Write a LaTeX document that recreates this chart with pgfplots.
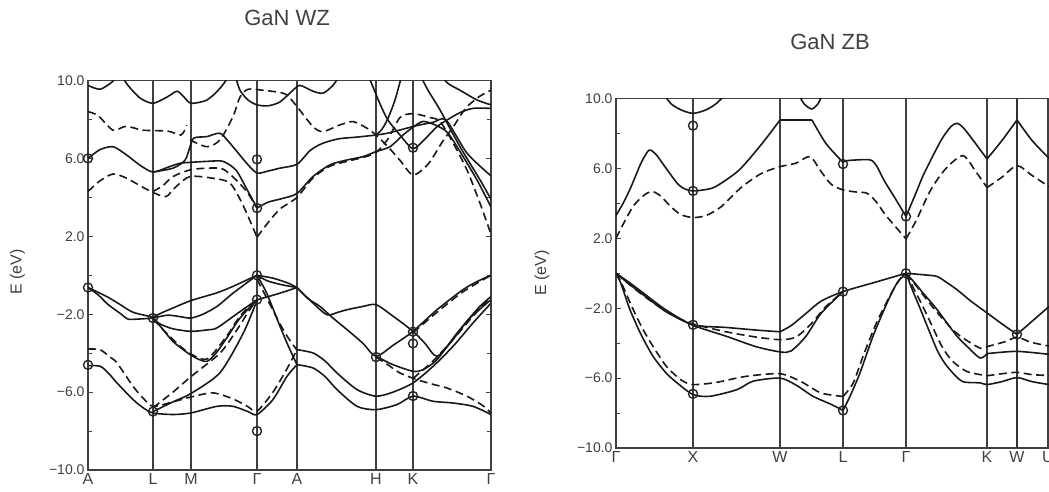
\documentclass[border=0pt]{standalone}
\usepackage{pgfplots}
\pgfplotsset{compat=1.18}
\usepackage{fontspec}
\setmainfont{Liberation Sans}
\begin{document}
\begin{tikzpicture}
\path[use as bounding box] (0pt,0pt) rectangle (1049pt,-491pt);
\clip (0pt,0pt) rectangle (1049pt,-491pt);
\pgfplotsset{
  band/.style={black!90, line width=1.6pt, smooth, tension=0.45},
  dband/.style={band, dash pattern=on 8pt off 4.5pt},
  circ/.style={only marks, mark=o, mark size=4.5pt, mark options={line width=1.4pt, black!85, solid}},
  bandaxis/.style={scale only axis, anchor=south west, ymin=-10, ymax=10,
    ytick={-10,-6,-2,2,6,10}, yticklabels={−10.0,−6.0,−2.0,2.0,6.0,10.0},
    minor ytick={-8,-4,0,4,8}, ytick pos=both, tick align=inside,
    major tick length=5pt, minor tick length=4pt,
    tick style={black!75, line width=0.9pt},
    xtick style={draw=none},
    axis line style={black!75, line width=1.8pt},
    xmajorgrids, major grid style={black!75, line width=1.5pt},
    clip mode=individual,
    yticklabel style={font=\fontsize{14}{14}\selectfont, text=black!75},
    xticklabel style={font=\fontsize{16}{16}\selectfont, text=black!75},
    title style={anchor=center, font=\fontsize{22}{22}\selectfont, text=black!75},
    ylabel style={anchor=center, rotate=0, font=\fontsize{16}{16}\selectfont, text=black!75},
  }
}
% ===================== GaN WZ =====================
\begin{axis}[bandaxis, at={(88pt,-470pt)}, width=403pt, height=389.5pt,
  xmin=0, xmax=403,
  xtick={0,65,103,169,209,288,325,403},
  xticklabels={A,L,M,Γ,A,H,K,Γ},
  title={GaN WZ}, title style={at={(axis description cs:0.494,1.145)}},
  ylabel={E (eV)}, ylabel style={at={(axis description cs:-0.175,0.508)}}]
% conduction bands
\addplot[band] coordinates {(0,9.75)(12,9.55)(24,9.92)(30,10.3)};
\addplot[band] coordinates {(33,10.3)(40,9.75)(52,9.1)(65,8.83)(79,9.15)(89,9.45)(96,9.15)(103,8.83)(119,9.0)(132,9.6)(142,10.3)};
\addplot[band] coordinates {(147,10.3)(152,9.5)(160,9.0)(169,8.75)(180,8.7)(192,8.9)(205,9.5)(212,9.75)(225,9.45)(235,9.35)(245,9.75)(252,10.3)};
\addplot[dband] coordinates {(0,8.4)(10,8.2)(25,7.45)(38,7.65)(55,7.45)(80,7.4)(93,7.2)(99,7.7)};
\addplot[dband] coordinates {(102,6.95)(119,6.6)(132,6.95)(145,8.15)(152,9.15)(160,9.55)(175,9.5)(190,9.4)(199,9.26)(209,8.66)(225,7.63)(235,7.38)(252,7.72)(265,7.89)(279,7.55)(288,7.2)(300,6.6)(312,5.9)(325,5.15)(340,5.7)(355,6.9)(365,7.6)(378,8.6)(392,9.2)(403,9.5)};
\addplot[band] coordinates {(0,6.0)(12,6.45)(25,6.6)(38,6.2)(52,5.65)(65,5.3)(80,5.55)(92,5.75)(103,5.8)(120,5.85)(135,5.85)(148,5.4)(158,4.5)(169,3.45)};
\addplot[band] coordinates {(169,3.45)(180,3.75)(195,3.95)(209,4.2)(225,5.07)(242,5.67)(259,5.92)(275,6.09)(288,6.35)(302,6.6)(315,7.2)(325,7.6)(335,7.9)(348,7.7)(360,7.3)(375,6.1)(390,4.8)(403,3.5)};
\addplot[band] coordinates {(65,5.3)(85,5.5)(97,5.9)(102,6.6)(106,7.05)(119,7.12)(132,7.29)(142,6.78)(158.7,5.75)(169,5.25)(180,5.35)(192,5.5)(209,5.7)(222,6.4)(233.5,6.75)(250,7.0)(270,7.1)(288,7.2)(300,7.3)(315,7.5)(330,7.7)(345,7.85)(358,7.97)(379,6.27)(403,5.1)};
\addplot[band] coordinates {(280,10.3)(292,8.8)(300,7.97)(312,7.2)(325,6.5)(337,7.0)(349,7.63)(360,8.0)(372,8.35)(385,8.57)(403,8.57)};
\addplot[band] coordinates {(332,10.3)(340,9.5)(352,8.49)(372,6.6)(392,4.9)(403,3.9)};
\addplot[band] coordinates {(352,10.3)(360,9.85)(372,9.5)(389,9.0)(403,8.75)};
\addplot[band] coordinates {(314,10.3)(307,9.0)(300,8.06)(294,7.5)(288,7.2)};
\addplot[dband] coordinates {(0,4.3)(12,4.85)(25,5.2)(38,5.0)(52,4.6)(65,4.25)(78,4.04)(88,4.55)(102,5.07)(125,4.98)(142,4.73)(155,3.6)(169,1.95)};
\addplot[dband] coordinates {(169,1.95)(180,2.7)(192,3.4)(209,4.0)(225,5.0)(242,5.6)(259,5.85)(275,6.05)(288,6.3)(300,7.0)(312,8.1)(325,8.3)(342,8.1)(352,7.9)(365,6.8)(379,5.4)(392,3.7)(403,2.1)};
\addplot[dband] coordinates {(65,4.3)(75,4.6)(85,5.07)(102,5.41)(120,5.5)(135,5.45)(150,4.8)(160,4.2)(169,3.45)};
% valence bands
\addplot[band] coordinates {(0,-0.63)(10,-1.0)(20,-1.5)(32,-1.95)(40,-2.25)(50,-2.25)(65,-2.2)};
\addplot[band] coordinates {(0,-0.63)(19,-1.1)(32,-1.5)(45,-1.9)(65,-2.15)};
\addplot[band] coordinates {(65,-2.15)(75,-1.9)(85,-1.68)(103,-1.3)(129,-0.9)(145,-0.57)(169,0)};
\addplot[band] coordinates {(65,-2.2)(80,-2.05)(95,-2.15)(103,-2.2)(115,-2.0)(129,-1.6)(145,-0.92)(169,0)};
\addplot[band] coordinates {(65,-2.2)(72,-2.5)(85,-2.75)(103,-2.88)(120,-2.8)(129,-2.7)(150,-1.94)(169,-1.26)};
\addplot[band] coordinates {(65,-2.2)(72,-2.6)(85,-3.4)(100,-4.0)(110,-4.3)(119,-4.42)(128,-4.0)(139,-3.2)(152,-2.2)(169,-1.26)};
\addplot[dband] coordinates {(65,-2.25)(85,-3.3)(100,-3.95)(119,-4.3)(139,-3.1)(152,-2.1)(169,-1.2)};
\addplot[band] coordinates {(169,0)(185,-0.15)(200,-0.4)(209,-0.63)};
\addplot[band] coordinates {(169,0)(180,-0.3)(195,-0.5)(209,-0.63)};
\addplot[band] coordinates {(169,-1.26)(190,-0.95)(209,-0.63)};
\addplot[band] coordinates {(169,0)(178.7,-0.92)(192,-2.62)(200,-3.6)(209,-4.59)};
\addplot[dband] coordinates {(169,-0.2)(180,-1.3)(192,-2.5)(200,-3.2)(209,-3.85)};
\addplot[band] coordinates {(209,-0.63)(225,-1.43)(239,-2.03)(250,-1.9)(259,-1.77)(275,-1.6)(288,-1.51)(305,-2.1)(325,-2.88)(337,-3.5)(349,-4.16)(365,-3.3)(380,-2.3)(395,-1.6)(403,-1.26)};
\addplot[band] coordinates {(209,-0.63)(220,-1.2)(232,-1.6)(245,-2.2)(259,-2.79)(275,-3.5)(288,-4.16)(305,-3.6)(325,-2.88)(349,-1.77)(375,-0.74)(390,-0.3)(403,0)};
\addplot[dband] coordinates {(325,-2.95)(349,-1.9)(375,-0.85)(403,0)};
\addplot[band] coordinates {(288,-4.16)(305,-4.59)(325,-4.93)(335,-4.85)(349,-4.33)(369,-2.97)(390,-1.7)(403,-1.09)};
\addplot[dband] coordinates {(288,-4.2)(300,-4.6)(312,-5.02)(329,-5.36)(345,-5.6)(359,-5.79)(379,-6.21)(395,-6.7)(403,-7.07)};
\addplot[band] coordinates {(209,-3.82)(225,-3.99)(237,-4.4)(249,-5.02)(269,-5.87)(288,-6.21)(305,-6.0)(325,-5.53)(345,-4.68)(365,-3.65)(385,-2.45)(403,-1.43)};
\addplot[dband] coordinates {(325,-5.3)(345,-4.4)(365,-3.3)(385,-2.1)(403,-1.1)};
\addplot[band] coordinates {(209,-4.59)(225,-4.76)(237,-5.2)(249,-5.87)(269,-6.73)(288,-6.9)(309,-6.64)(325,-6.21)(345,-6.47)(365,-6.56)(385,-6.73)(403,-7.15)};
\addplot[band] coordinates {(0,-4.64)(12,-4.67)(20,-5.0)(29,-5.53)(45,-6.38)(55,-6.8)(65,-7.07)(85,-7.15)(103,-7.07)(129,-6.73)(145,-6.73)(160,-7.0)(169,-7.15)(185,-6.38)(199,-5.19)(209,-4.59)};
\addplot[dband] coordinates {(0,-3.79)(12,-3.82)(22,-4.2)(29,-4.5)(45,-5.7)(55,-6.3)(65,-6.73)(85,-6.5)(103,-6.25)(125,-6.04)(145,-6.35)(160,-6.75)(169,-6.98)(185,-6.0)(199,-4.8)(209,-3.82)};
\addplot[dband] coordinates {(65,-6.8)(85,-6.0)(103,-5.2)(132,-4.0)(149,-2.8)(160,-1.9)(169,-1.25)};
\addplot[band] coordinates {(65,-7.0)(85,-6.5)(103,-6.07)(132,-5.0)(155,-3.0)(169,-1.3)};
\addplot[circ] coordinates {(0,6.0)(0,-0.63)(0,-4.6)(169,5.95)(169,3.45)(169,0)(169,-1.25)(169,-8.0)(288,-4.2)(325,6.55)(325,-2.9)(325,-3.5)(325,-6.2)(65,-7.0)(65,-2.2)};
\end{axis}
% ===================== GaN ZB =====================
\begin{axis}[bandaxis, at={(616pt,-448pt)}, width=436pt, height=349.5pt,
  xmin=0, xmax=436,
  xtick={0,77,164,227,290,371,401,432},
  xticklabels={Γ,X,W,L,Γ,K,W,U},
  title={GaN ZB}, title style={at={(axis description cs:0.491,1.1445)}},
  ylabel={E (eV)}, ylabel style={at={(axis description cs:-0.170,0.5)}}]
\addplot[black!80, line width=2.4pt] coordinates {(401,-10)(401,10)};
% conduction
\addplot[band] coordinates {(0,3.3)(8,4.1)(15,4.94)(25,6.3)(33,7.04)(40,6.8)(49,6.09)(62,5.1)(70,4.8)(77,4.71)(85,4.75)(99,4.94)(123,5.9)(146,7.42)(164,8.77)};
\addplot[band] coordinates {(164,8.77)(196,8.77)};
\addplot[band] coordinates {(196,8.77)(210,7.42)(227,6.35)};
\addplot[band] coordinates {(227,6.35)(232,6.45)(254,6.49)(261,6.1)(268,5.32)(279,4.3)(290,3.25)};
\addplot[band] coordinates {(290,3.25)(300,4.6)(308,5.7)(325,7.6)(335,8.4)(341,8.58)(346,8.4)(352,8.0)(371,6.54)};
\addplot[band] coordinates {(371,6.54)(386,7.6)(401,8.77)};
\addplot[band] coordinates {(401,8.77)(416,7.6)(433,6.58)(436,6.5)};
\addplot[dband] coordinates {(0,2.0)(8,2.9)(18,3.9)(30,4.55)(37,4.67)(45,4.4)(55,3.8)(65,3.35)(77,3.19)(90,3.3)(105,3.8)(125,4.9)(145,5.7)(164,6.1)(180,6.3)(194,6.68)(204,5.91)(215,5.1)(227,4.77)(240,4.65)(251,4.58)(260,4.1)(270,3.3)(290,1.97)};
\addplot[dband] coordinates {(290,1.97)(300,3.0)(315,4.8)(330,6.0)(347,6.73)(360,5.8)(371,4.9)};
\addplot[dband] coordinates {(371,4.9)(386,5.5)(401,6.16)(416,5.6)(433,4.96)(436,4.9)};
\addplot[band] coordinates {(47,10.3)(55,9.7)(65,9.35)(77,9.15)(90,9.35)(100,9.7)(111,10.3)};
\addplot[band] coordinates {(182,10.3)(188,9.7)(195.7,9.4)(202,9.7)(207,10.3)};
% valence
\addplot[band] coordinates {(0,0)(15,-0.6)(30,-1.25)(50,-2.1)(77,-2.95)(110,-3.1)(140,-3.25)(164,-3.35)};
\addplot[band] coordinates {(164,-3.35)(175,-3.0)(190,-2.3)(205,-1.6)(227,-1.05)(260,-0.5)(290,0)};
\addplot[band] coordinates {(290,0)(310,-0.1)(321,-0.18)(330,-0.5)(341,-0.94)(355,-1.6)(371,-2.27)(386,-2.9)(401,-3.5)};
\addplot[band] coordinates {(401,-3.5)(415,-2.8)(433,-1.9)(436,-1.7)};
\addplot[dband] coordinates {(0,0)(20,-0.95)(40,-1.8)(60,-2.5)(77,-2.9)(110,-3.35)(140,-3.65)(164,-3.8)(180,-3.65)(195,-2.9)(210,-1.9)(227,-1.05)};
\addplot[band] coordinates {(0,0)(15,-0.7)(30,-1.35)(50,-2.2)(77,-2.98)(110,-3.6)(140,-4.2)(164,-4.5)(175,-4.45)(190,-3.6)(205,-2.3)(227,-1.05)};
\addplot[band] coordinates {(290,0)(298,-0.5)(307,-1.13)(320,-2.0)(331,-2.85)(341,-3.6)(351,-4.18)(364,-4.85)(371,-4.6)};
\addplot[band] coordinates {(371,-4.6)(401,-4.47)(436,-4.66)};
\addplot[dband] coordinates {(290,0)(300,-0.7)(312,-1.6)(325,-2.5)(340,-3.4)(355,-4.0)(365,-4.3)(371,-4.2)(390,-3.9)(401,-3.65)(415,-3.95)(436,-4.2)};
\addplot[band] coordinates {(0,0)(5,-0.6)(14,-2.09)(25,-3.5)(37,-4.75)(50,-5.7)(61,-6.27)(77,-6.94)(94,-7.04)(121,-6.66)(137,-6.18)(164,-6.0)(180,-6.4)(197,-7.04)(215,-7.5)(227,-7.85)};
\addplot[band] coordinates {(227,-7.85)(234,-7.04)(244,-5.7)(257,-3.6)(271,-1.7)(281,-0.56)(290,0)};
\addplot[dband] coordinates {(0,0)(5,-0.5)(15,-1.8)(25,-3.0)(35,-4.0)(50,-5.3)(65,-6.1)(77,-6.37)(100,-6.25)(130,-5.9)(164,-5.75)(185,-6.2)(205,-6.85)(227,-7.05)};
\addplot[dband] coordinates {(227,-7.05)(237,-6.3)(248,-4.6)(260,-2.9)(272,-1.5)(283,-0.4)(290,0)};
\addplot[band] coordinates {(290,0)(296,-0.9)(304,-2.0)(314,-3.42)(322,-4.5)(331,-5.32)(346,-6.18)(364,-6.27)(371,-6.37)(386,-6.2)(401,-5.97)(416,-6.2)(433,-6.37)(436,-6.37)};
\addplot[dband] coordinates {(290,0)(297,-0.8)(306,-1.8)(316,-3.0)(326,-4.2)(336,-5.0)(350,-5.6)(364,-5.8)(371,-5.86)(386,-5.75)(401,-5.67)(416,-5.8)(436,-5.86)};
\addplot[circ] coordinates {(77,8.45)(77,4.71)(227,6.25)(290,3.25)(77,-2.95)(77,-6.9)(227,-1.05)(227,-7.85)(290,0.0)(401,-3.5)};
\end{axis}
\end{tikzpicture}
\end{document}
